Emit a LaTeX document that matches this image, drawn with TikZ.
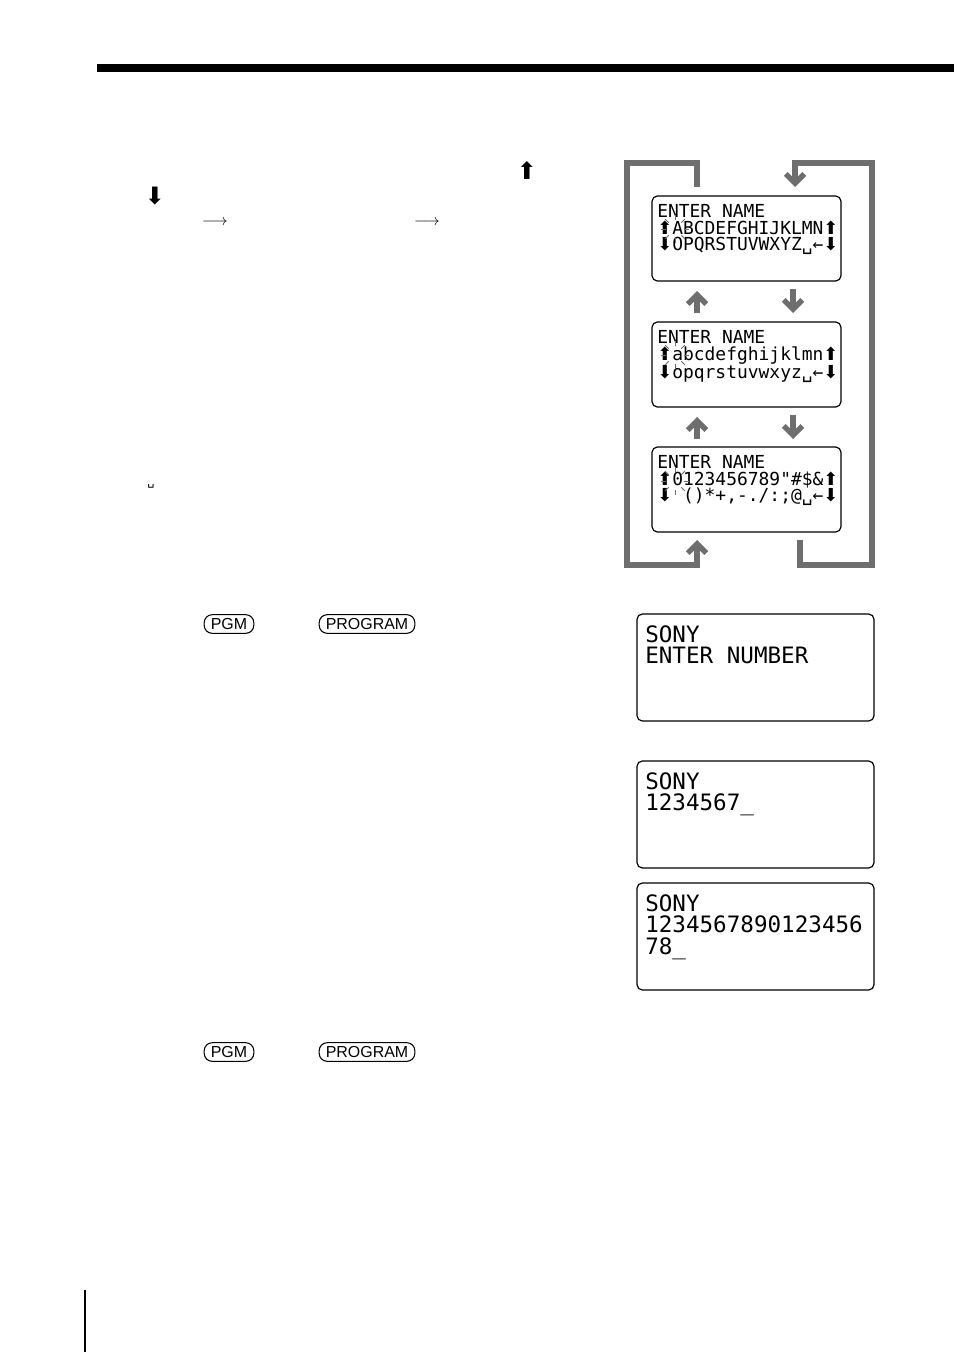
\documentclass[tikz,border=0pt]{standalone}
\usepackage{fontspec}
\setmainfont{Liberation Sans}
\newfontfamily\lcdfont{DejaVu Sans Mono}
\newfontfamily\symfont{DejaVu Sans}
\usetikzlibrary{positioning,arrows.meta}
\definecolor{loopgray}{HTML}{6E6E6E}
\newcommand{\up}{{\symfont\char"2B06}}
\newcommand{\dn}{{\symfont\char"2B07}}

\begin{document}
\begin{tikzpicture}[x=0.0264583cm,y=-0.0264583cm,
lcd/.style={draw,rounded corners=4pt,line width=0.9pt},
smalltext/.style={font=\lcdfont\fontsize{13.5}{12.6}\selectfont,anchor=north west,align=left,inner sep=0pt},
bigtext/.style={font=\lcdfont\fontsize{17}{16.5}\selectfont,anchor=north west,align=left,inner sep=0pt},
loop/.style={draw=loopgray,line width=4pt},
looparrow/.style={loop,-{Straight Barb[length=7pt,width=14pt,line width=4pt]}},
key/.style={draw,rounded corners=6pt,line width=0.8pt,font=\fontsize{12}{12}\selectfont,inner xsep=5pt,inner ysep=1.5pt,minimum height=14pt}]
\useasboundingbox (0,0) rectangle (954,1352);
% page rules
\fill (97,64) rectangle (954,72);
\draw[line width=1pt] (85,1290) -- (85,1352);
% symbols in the text column
\node (upkey) at (527,170) {\fontsize{18}{18}\selectfont\up};
\node (dnkey) at (155,196) {\fontsize{18}{18}\selectfont\dn};
\node (step1) at (215,223) {\fontsize{12}{12}\selectfont$\longrightarrow$};
\node (step2) at (427,223) {\fontsize{12}{12}\selectfont$\longrightarrow$};
\node (spc) at (151,486) {\lcdfont\fontsize{9}{9}\selectfont\char"2423};
% keys
\node (pgma) [key] at (229,624) {PGM};
\node (proga) [key] at (367,624) {PROGRAM};
\node (pgmb) [key] at (229,1052) {PGM};
\node (progb) [key] at (367,1052) {PROGRAM};
% name entry screens
\draw[lcd] (652,196) rectangle (841,281);
\draw[lcd] (652,322) rectangle (841,407);
\draw[lcd] (652,447) rectangle (841,532);
\node (uppertxt) [smalltext] at (657,204) {ENTER NAME\\\up ABCDEFGHIJKLMN\up\\\dn OPQRSTUVWXYZ\char"2423\char"2190\dn};
\node (lowertxt) [smalltext] at (657,330) {ENTER NAME\\\up abcdefghijklmn\up\\\dn opqrstuvwxyz\char"2423\char"2190\dn};
\node (symtxt) [smalltext] at (657,455) {ENTER NAME\\\up 0123456789"\#\$\&\up\\\dn\ ()*+,-./:;@\char"2423\char"2190\dn};
% blinking cursors
\foreach \cy in {229,355,481}{
  \foreach \ang in {0,45,...,315}
    \draw[loopgray,line width=0.6pt] (675,\cy) ++(\ang:9) -- ++(\ang:5);
}
% loop between the screens
\coordinate (ltop) at (697,187);
\coordinate (rtop) at (795,187);
\coordinate (lbot) at (697,540);
\coordinate (rbot) at (800,540);
\draw[looparrow] (ltop) |- (627,163) |- (697,565) -- (lbot);
\draw[looparrow] (rbot) |- (872,565) |- (795,163) -- (rtop);
\draw[looparrow] (697,313) -- (697,291);
\draw[looparrow] (793,289) -- (793,313);
\draw[looparrow] (697,439) -- (697,417);
\draw[looparrow] (793,415) -- (793,439);
% number entry screens
\draw[lcd] (637,614) rectangle (874,721);
\draw[lcd] (637,761) rectangle (874,868);
\draw[lcd] (637,883) rectangle (874,990);
\node (numa) [bigtext] at (645,625) {SONY\\ENTER NUMBER};
\node (numb) [bigtext] at (645,772) {SONY\\1234567\_};
\node (numc) [bigtext] at (645,894) {SONY\\1234567890123456\\78\_};
\end{tikzpicture}
\end{document}
